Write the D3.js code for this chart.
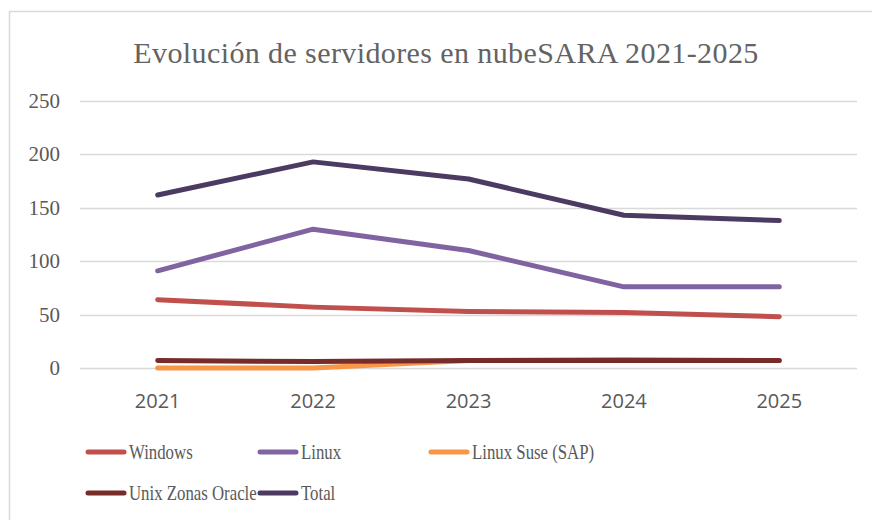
<!DOCTYPE html>
<html>
<head>
<meta charset="utf-8">
<script src="https://cdn.jsdelivr.net/npm/d3@7"></script>
<style>
  body { margin: 0; background: #fff; }
</style>
</head>
<body>
<div id="chart"></div>
<script>
var years = ["2021", "2022", "2023", "2024", "2025"];
var windows = [64, 57, 53, 52, 48];
var linux = [91, 130, 110, 76, 76];
var linuxSuse = [0, 0, 7, 8, 7];
var unixOracle = [7, 6, 7, 7, 7];
var total = [162, 193, 177, 143, 138];
var yTicks = [0, 50, 100, 150, 200, 250];

var series = [
    {name: "Windows", values: windows, color: "#c0504d"},
    {name: "Linux", values: linux, color: "#8064a2"},
    {name: "Linux Suse (SAP)", values: linuxSuse, color: "#f79646"},
    {name: "Unix Zonas Oracle", values: unixOracle, color: "#772c2a"},
    {name: "Total", values: total, color: "#4b3a62"}
];

var width = 872, height = 520;
var svg = d3.select("#chart")
    .append("svg")
    .attr("width", width)
    .attr("height", height);

// chart frame
svg.append("rect")
    .attr("x", 9.5).attr("y", 11.5)
    .attr("width", 880).attr("height", 520)
    .attr("fill", "none")
    .attr("stroke", "#d9d9d9")
    .attr("stroke-width", 1.5);

svg.append("text")
    .attr("x", 446).attr("y", 63)
    .attr("text-anchor", "middle")
    .style("font-family", "'Liberation Serif', serif")
    .style("font-size", "30px")
    .style("letter-spacing", "0.4px")
    .style("fill", "#636363")
    .text("Evolución de servidores en nubeSARA 2021-2025");

var x = d3.scaleBand().domain(years).range([80, 857]);
var y = d3.scaleLinear().domain([0, 250]).range([368, 101]);

// gridlines
svg.append("g")
    .selectAll("line")
    .data(yTicks)
    .enter().append("line")
    .attr("x1", 80).attr("x2", 857)
    .attr("y1", function (d) { return Math.round(y(d)) + 0.5; })
    .attr("y2", function (d) { return Math.round(y(d)) + 0.5; })
    .style("stroke", "#d9d9d9")
    .style("stroke-width", 1.5);

svg.append("g")
    .selectAll("text")
    .data(yTicks)
    .enter().append("text")
    .attr("x", 60)
    .attr("y", function (d) { return y(d) + 7; })
    .attr("text-anchor", "end")
    .style("font-family", "'Liberation Serif', serif")
    .style("font-size", "21px")
    .style("fill", "#595959")
    .text(function (d) { return d; });

svg.append("g")
    .selectAll("text")
    .data(years)
    .enter().append("text")
    .attr("x", function (d) { return x(d) + x.bandwidth() / 2; })
    .attr("y", 408)
    .attr("text-anchor", "middle")
    .style("font-family", "'Open Sans', sans-serif")
    .style("font-size", "20px")
    .style("fill", "#595959")
    .text(function (d) { return d; });

var line = d3.line()
    .x(function (d, i) { return x(years[i]) + x.bandwidth() / 2; })
    .y(function (d) { return y(d); });

svg.append("g")
    .selectAll("path")
    .data(series)
    .enter().append("path")
    .attr("d", function (d) { return line(d.values); })
    .style("fill", "none")
    .style("stroke", function (d) { return d.color; })
    .style("stroke-width", 5)
    .style("stroke-linecap", "round")
    .style("stroke-linejoin", "round");

// legend
var legendPos = [[88, 452], [260, 452], [431, 452], [88, 493], [260, 493]];
var legend = svg.append("g")
    .selectAll("g")
    .data(series)
    .enter().append("g")
    .attr("transform", function (d, i) { return "translate(" + legendPos[i][0] + "," + legendPos[i][1] + ")"; });

legend.append("line")
    .attr("x1", 0).attr("x2", 36)
    .style("stroke", function (d) { return d.color; })
    .style("stroke-width", 5)
    .style("stroke-linecap", "round");

legend.append("text")
    .attr("transform", "translate(41,7) scale(0.8,1)")
    .style("font-family", "'Liberation Serif', serif")
    .style("font-size", "21px")
    .style("fill", "#595959")
    .text(function (d) { return d.name; });
</script>
</body>
</html>
